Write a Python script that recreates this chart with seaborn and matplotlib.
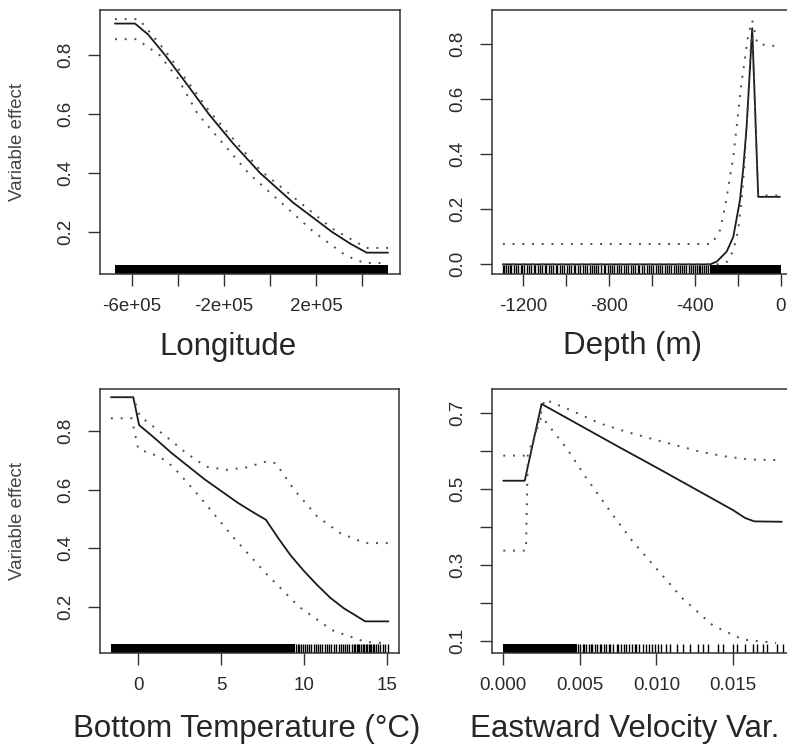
import matplotlib
matplotlib.use("Agg")
import matplotlib.pyplot as plt
import seaborn as sns

# ---- response curves ----
lon_x = [-674000, -587000, -530000, -456000, -360000, -266000, -160000, -43000, 100000, 270000, 350000, 420000, 513000]
lon_fit = [0.907, 0.907, 0.87, 0.80, 0.70, 0.60, 0.50, 0.40, 0.30, 0.20, 0.16, 0.13, 0.13]
lon_up_x = [-674000, -570000, -456000, -266000, -43000, 270000, 420000, 513000]
lon_up = [0.922, 0.922, 0.815, 0.612, 0.41, 0.212, 0.146, 0.146]
lon_lo_x = [-674000, -580000, -480000, -400000, -314000, -94000, 190000, 330000, 410000, 513000]
lon_lo = [0.854, 0.854, 0.80, 0.72, 0.60, 0.40, 0.20, 0.12, 0.095, 0.095]

dep_x = [-1295, -330, -299, -253, -222, -191, -175, -160, -144, -134, -106, -5]
dep_fit = [0.0, 0.0, 0.01, 0.046, 0.10, 0.233, 0.354, 0.50, 0.717, 0.857, 0.245, 0.245]
dep_up_x = [-1295, -322, -284, -260, -222, -184, -153, -134, -110, -5]
dep_up = [0.074, 0.074, 0.124, 0.21, 0.39, 0.657, 0.83, 0.885, 0.80, 0.79]
dep_lo_x = [-1295, -280, -250, -222, -200, -184, -170, -153, -140, -134, -106, -5]
dep_lo = [0.0, 0.0, 0.01, 0.05, 0.12, 0.23, 0.36, 0.60, 0.80, 0.85, 0.25, 0.25]

tmp_x = [-1.65, -0.3, 0.05, 1, 2, 3, 4, 5, 6, 7, 7.7, 8.5, 9.2, 10, 10.8, 11.6, 12.4, 13.7, 15.1]
tmp_fit = [0.915, 0.915, 0.82, 0.775, 0.725, 0.68, 0.635, 0.595, 0.555, 0.52, 0.497, 0.43, 0.375, 0.322, 0.274, 0.23, 0.195, 0.15, 0.15]
tmp_up_x = [-1.65, -0.3, 0.1, 1.7, 2.9, 4.1, 5.3, 6.5, 7.7, 8.3, 9.4, 10.8, 12.2, 13.7, 15.1]
tmp_up = [0.915, 0.915, 0.85, 0.78, 0.724, 0.678, 0.667, 0.675, 0.695, 0.69, 0.60, 0.508, 0.451, 0.417, 0.417]
tmp_lo_x = [-1.65, -0.4, 0.0, 1.3, 2.1, 3.7, 5.7, 7.7, 9.7, 11.7, 13.7, 15.1]
tmp_lo = [0.843, 0.843, 0.738, 0.712, 0.678, 0.576, 0.439, 0.314, 0.20, 0.12, 0.08, 0.075]

vel_x = [0.0, 0.0014, 0.0025, 0.005, 0.0075, 0.010, 0.0125, 0.015, 0.0158, 0.0164, 0.0182]
vel_fit = [0.521, 0.521, 0.723, 0.667, 0.611, 0.556, 0.50, 0.444, 0.423, 0.414, 0.413]
vel_up_x = [0.0, 0.00145, 0.0018, 0.0027, 0.0045, 0.0063, 0.0082, 0.010, 0.0115, 0.0129, 0.0145, 0.0161, 0.0182]
vel_up = [0.587, 0.587, 0.60, 0.735, 0.705, 0.672, 0.648, 0.628, 0.612, 0.597, 0.585, 0.577, 0.575]
vel_lo_x = [0.0, 0.00148, 0.0016, 0.0025, 0.00413, 0.00543, 0.00717, 0.00848, 0.010, 0.01174, 0.0137, 0.01565, 0.01783]
vel_lo = [0.337, 0.337, 0.59, 0.69, 0.607, 0.528, 0.43, 0.36, 0.29, 0.21, 0.14, 0.103, 0.094]

# ---- rug: solid stretches + individual ticks ----
lon_rug_dense = (-674000, 513000)
dep_rug_dense = (-330, 0)
dep_rug = [-1295, -1288, -1280, -1271, -1262, -1255, -1243, -1236, -1224, -1212, -1205, -1196,
           -1183, -1175, -1166, -1152, -1144, -1131, -1122, -1115, -1101, -1093, -1080, -1072,
           -1060, -1049, -1041, -1030, -1018, -1009, -998, -986, -977, -965, -957, -944, -936,
           -921, -912, -904, -890, -882, -871, -860, -851, -839, -826, -818, -806, -797, -785,
           -776, -764, -752, -745, -733, -721, -712, -700, -691, -680, -668, -659, -647, -638,
           -626, -615, -606, -595, -584, -574, -562, -553, -541, -532, -521, -511, -500, -490,
           -481, -470, -461, -450, -441, -430, -421, -411, -402, -393, -384, -375, -366, -357,
           -348, -339]
tmp_rug_dense = (-1.65, 9.45)
tmp_rug = [9.5, 9.62, 9.7, 9.85, 9.97, 10.05, 10.2, 10.33, 10.45, 10.58, 10.7, 10.86, 11.0, 11.1,
           11.27, 11.4, 11.52, 11.66, 11.8, 11.93, 12.1, 12.22, 12.35, 12.48, 12.62, 12.75, 12.9,
           13.0, 13.08, 13.18, 13.27, 13.35, 13.46, 13.55, 13.63, 13.72, 13.8, 13.9, 13.98, 14.07,
           14.15, 14.26, 14.35, 14.47, 14.6, 14.76, 14.9, 15.1]
vel_rug_dense = (0.0, 0.0048)
vel_rug = [0.0049, 0.0050, 0.0052, 0.0053, 0.0054, 0.0056, 0.0057, 0.0058, 0.0060, 0.0061, 0.0063,
           0.0064, 0.0066, 0.0067, 0.0069, 0.0070, 0.0072, 0.0074, 0.0075, 0.0077, 0.0079, 0.0080,
           0.0082, 0.0084, 0.0086, 0.0087, 0.0089, 0.0091, 0.0093, 0.0095, 0.0097, 0.0099, 0.0101,
           0.0103, 0.0106, 0.0109, 0.01133, 0.01176, 0.0122, 0.01275, 0.01307, 0.0134, 0.01405,
           0.01438, 0.01503, 0.01525, 0.0158, 0.01634, 0.01656, 0.017, 0.01722, 0.01787, 0.0183]

panels = [
    dict(pos=(100, 10, 400, 274), xlim=(-739000, 565000), ylim=(0.0576, 0.953),
         xt=[-6e5, -4e5, -2e5, 0, 2e5, 4e5], xl=["-6e+05", "", "-2e+05", "", "2e+05", ""],
         yt=[0.2, 0.4, 0.6, 0.8], yl=["0.2", "0.4", "0.6", "0.8"],
         fit=(lon_x, lon_fit), up=(lon_up_x, lon_up), lo=(lon_lo_x, lon_lo),
         dense=lon_rug_dense, rug=[], ylab=True),
    dict(pos=(491.7, 10, 792.5, 274), xlim=(-1347, 53.6), ylim=(-0.035, 0.923),
         xt=[-1200, -1000, -800, -600, -400, -200, 0], xl=["-1200", "", "-800", "", "-400", "", "0"],
         yt=[0.0, 0.2, 0.4, 0.6, 0.8], yl=["0.0", "0.2", "0.4", "0.6", "0.8"],
         fit=(dep_x, dep_fit), up=(dep_up_x, dep_up), lo=(dep_lo_x, dep_lo),
         dense=dep_rug_dense, rug=dep_rug, ylab=False),
    dict(pos=(100, 389, 399, 653.3), xlim=(-2.31, 15.74), ylim=(0.041, 0.943),
         xt=[0, 5, 10, 15], xl=["0", "5", "10", "15"],
         yt=[0.2, 0.4, 0.6, 0.8], yl=["0.2", "0.4", "0.6", "0.8"],
         fit=(tmp_x, tmp_fit), up=(tmp_up_x, tmp_up), lo=(tmp_lo_x, tmp_lo),
         dense=tmp_rug_dense, rug=tmp_rug, ylab=True),
    dict(pos=(491.7, 389, 792.5, 653.3), xlim=(-0.000759, 0.0189), ylim=(0.0668, 0.7624),
         xt=[0.0, 0.005, 0.010, 0.015], xl=["0.000", "0.005", "0.010", "0.015"],
         yt=[0.1, 0.2, 0.3, 0.4, 0.5, 0.6, 0.7], yl=["0.1", "", "0.3", "", "0.5", "", "0.7"],
         fit=(vel_x, vel_fit), up=(vel_up_x, vel_up), lo=(vel_lo_x, vel_lo),
         dense=vel_rug_dense, rug=vel_rug, ylab=False),
]

sns.set_style("white")
plt.rcParams["font.family"] = ["Liberation Sans", "DejaVu Sans"]

W, H = 787, 756
fig = plt.figure(figsize=(W / 100, H / 100), dpi=100)

for p in panels:
    l, t, r, b = p["pos"]
    ax = fig.add_axes([l / W, 1 - b / H, (r - l) / W, (b - t) / H])
    x, y = p["fit"]
    sns.lineplot(x=x, y=y, ax=ax, color="#1a1a1a", lw=1.3)
    for key in ("up", "lo"):
        x, y = p[key]
        sns.lineplot(x=x, y=y, ax=ax, color="#4d4d4d", lw=1.4, linestyle=(0, (1, 4)))
    ax.axvspan(p["dense"][0], p["dense"][1], ymin=0, ymax=0.034, color="black", lw=0)
    if p["rug"]:
        sns.rugplot(x=p["rug"], ax=ax, height=0.034, color="black", lw=1.0,
                    expand_margins=False)
    ax.set_xlim(*p["xlim"])
    ax.set_ylim(*p["ylim"])
    ax.set_xticks(p["xt"])
    ax.set_xticklabels(p["xl"])
    ax.set_yticks(p["yt"])
    ax.set_yticklabels(p["yl"], rotation=90, va="center")
    ax.tick_params(axis="both", direction="out", length=8.6, width=1.0, color="#333333",
                   labelsize=13.5, labelcolor="#2a2a2a")
    ax.tick_params(axis="x", pad=8.5, bottom=True)
    ax.tick_params(axis="y", pad=10, left=True)
    for s in ax.spines.values():
        s.set_visible(True)
        s.set_color("#333333")
        s.set_linewidth(1.1)
    ax.set_xlabel("")
    ax.set_ylabel("")

# y-axis caption on the left column
fig.text(18 / W, 1 - 142 / H, "Variable effect", rotation=90, ha="center", va="center",
         fontsize=13.5, color="#444444")
fig.text(18 / W, 1 - 521 / H, "Variable effect", rotation=90, ha="center", va="center",
         fontsize=13.5, color="#444444")

# variable names under each panel
fig.text(228 / W, 1 - 355 / H, "Longitude", ha="center", va="baseline", fontsize=22.5)
fig.text(632.5 / W, 1 - 354 / H, "Depth (m)", ha="center", va="baseline", fontsize=22.5)
fig.text(73 / W, 1 - 737 / H, "Bottom Temperature (°C)", ha="left", va="baseline", fontsize=22.5)
fig.text(470 / W, 1 - 737 / H, "Eastward Velocity Var.", ha="left", va="baseline", fontsize=22.5)

fig.savefig("out.png", dpi=100)
